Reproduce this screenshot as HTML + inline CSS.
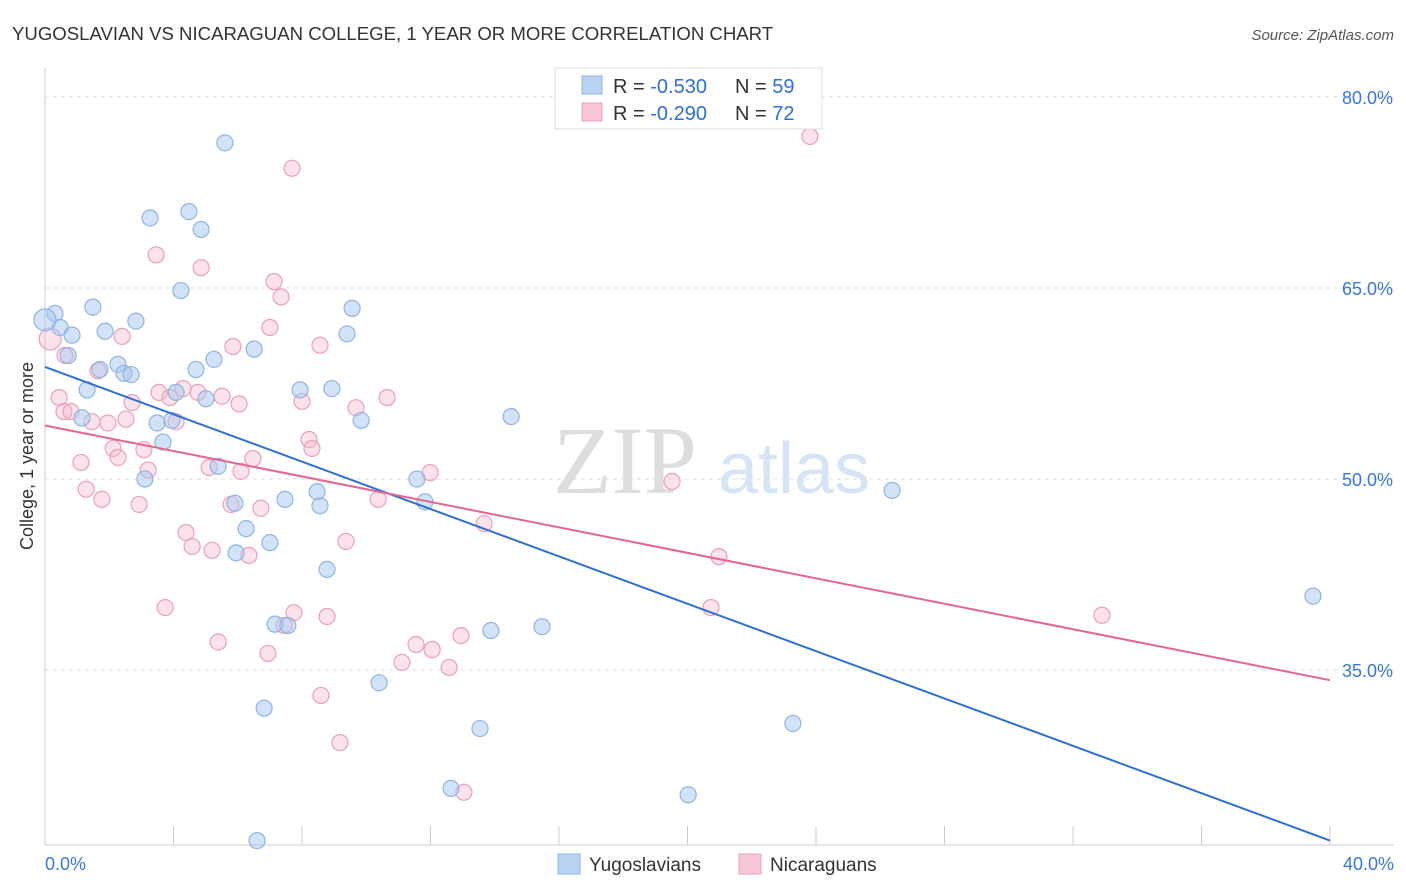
<!DOCTYPE html>
<html><head><meta charset="utf-8"><style>
body{margin:0;background:#fff;font-family:"Liberation Sans",sans-serif;}
svg{display:block}
</style></head><body>
<svg id="chart" width="1406" height="892" viewBox="0 0 1406 892">
<text x="12" y="40" font-size="18.6" fill="#333">YUGOSLAVIAN VS NICARAGUAN COLLEGE, 1 YEAR OR MORE CORRELATION CHART</text>
<text x="1394" y="40" font-size="15" fill="#555" font-style="italic" text-anchor="end">Source: ZipAtlas.com</text>
<text x="33" y="456" font-size="18" fill="#333" text-anchor="middle" transform="rotate(-90 33 456)">College, 1 year or more</text>
<g>
<text x="553" y="493" font-size="96" fill="#ddd" font-family="Liberation Serif,serif">ZIP</text>
<text x="718" y="493" font-size="72" fill="#d6e4f5">atlas</text>
</g>
<g id="grid"></g>
<g id="marks"></g>
<g>
<rect x="555" y="68" width="267" height="61" fill="#fff" stroke="#ddd"/>
<rect x="582" y="76" width="20" height="18" fill="#b9d3f4" stroke="#8fb4e3"/>
<rect x="582" y="103" width="20" height="18" fill="#f9c8d8" stroke="#eaa0b9"/>
<text x="613" y="93" font-size="20" fill="#333">R = <tspan fill="#2f6fd6">-0.530</tspan></text>
<text x="735" y="93" font-size="20" fill="#333">N = <tspan fill="#2f6fd6">59</tspan></text>
<text x="613" y="120" font-size="20" fill="#333">R = <tspan fill="#2f6fd6">-0.290</tspan></text>
<text x="735" y="120" font-size="20" fill="#333">N = <tspan fill="#2f6fd6">72</tspan></text>
</g>
<g>
<rect x="558" y="854" width="22" height="20" fill="#b9d3f4" stroke="#8fb4e3"/>
<text x="589" y="871" font-size="19" fill="#333">Yugoslavians</text>
<rect x="739" y="854" width="22" height="20" fill="#f9c8d8" stroke="#eaa0b9"/>
<text x="770" y="871" font-size="19" fill="#333">Nicaraguans</text>
</g>
</svg>
<script>
const yTicks=[80,65,50,35];
const yTickLabels=["80.0%","65.0%","50.0%","35.0%"];
const xTicks=[0,4,8,12,16,20,24,28,32,36,40];
const xEndLabels=["0.0%","40.0%"];
const blueX=[5.60,3.27,4.48,4.86,4.23,1.49,0.31,0.47,2.83,1.87,0.84,9.56,9.40,6.51,5.26,0.72,2.27,1.71,2.46,2.68,4.70,1.31,4.08,5.01,7.94,8.93,1.15,3.49,3.95,3.67,9.84,14.51,5.39,3.11,11.58,26.37,8.47,7.47,5.91,8.56,11.83,6.26,5.95,7.00,8.78,39.47,7.16,7.56,13.88,15.47,10.40,6.82,13.54,23.28,12.64,20.02,6.60,0];
const blueY=[76.4,70.5,71.0,69.6,64.8,63.5,63.0,61.9,62.4,61.6,61.3,63.4,61.4,60.2,59.4,59.7,59.0,58.6,58.3,58.2,58.6,57.0,56.8,56.3,57.0,57.1,54.8,54.4,54.6,52.9,54.6,54.9,51.0,50.0,50.0,49.1,49.0,48.4,48.1,47.9,48.2,46.1,44.2,45.0,42.9,40.8,38.6,38.5,38.1,38.4,34.0,32.0,30.4,30.8,25.7,25.2,21.6,62.5];
const pinkX=[23.81,7.69,3.46,4.86,7.13,7.35,7.00,2.40,5.85,8.56,0.62,1.65,0.16,3.55,4.30,4.76,5.51,3.89,10.65,8.00,6.04,2.71,9.68,0.44,0.59,0.81,1.46,1.96,2.52,4.08,8.22,8.31,2.12,2.27,3.08,6.47,1.12,3.21,5.11,6.10,11.99,19.52,1.28,1.77,2.93,5.79,6.72,10.37,13.67,4.39,4.58,5.20,6.35,9.37,20.98,3.74,7.75,8.78,20.73,32.90,5.39,11.55,12.95,12.05,11.11,12.58,6.94,8.59,9.18,13.04,7.44];
const pinkY=[76.9,74.4,67.6,66.6,65.5,64.3,61.9,61.2,60.4,60.5,59.7,58.5,61.0,56.8,57.1,56.8,56.5,56.4,56.4,56.1,55.9,56.0,55.6,56.4,55.3,55.3,54.5,54.4,54.7,54.5,53.1,52.4,52.4,51.7,52.3,51.6,51.3,50.7,50.9,50.6,50.5,49.8,49.2,48.4,48.0,48.0,47.7,48.4,46.5,45.8,44.7,44.4,44.0,45.1,43.9,39.9,39.5,39.2,39.9,39.3,37.2,37.0,37.7,36.6,35.6,35.2,36.3,33.0,29.3,25.4,38.5];
const blueTrend=[58.8,21.6];
const pinkTrend=[54.2,34.2];
const trendX=[0,40];

const NS="http://www.w3.org/2000/svg";
const xS=v=>45+v*32.125;
const yS=v=>97+(80-v)*12.733;
function mk(tag,attrs,parent){const e=document.createElementNS(NS,tag);for(const k in attrs)e.setAttribute(k,attrs[k]);parent.appendChild(e);return e;}
const grid=document.getElementById('grid'),marks=document.getElementById('marks');
let ax=mk('line',{x1:45,y1:68,x2:45,y2:845,stroke:'#ccc'},grid);


let bx=mk('line',{x1:45,y1:845,x2:1394,y2:845,stroke:'#ccc'},grid);


yTicks.forEach((t,i)=>{
 let l=mk('line',{x1:45,x2:1394,y1:yS(t),y2:yS(t),stroke:'#ddd','stroke-dasharray':'4,4'},grid);
 
 
 let tx=mk('text',{x:1393,y:yS(t)+7,'font-size':18,fill:'#3a78d4','text-anchor':'end'},grid);
 tx.textContent=yTickLabels[i];
 
 
});
xTicks.forEach(t=>{
 let l=mk('line',{x1:xS(t),x2:xS(t),y1:826,y2:845,stroke:'#ccc'},grid);
 
 
});
[[0,'start',45],[40,'end',1394]].forEach((d,i)=>{
 let tx=mk('text',{x:d[2],y:870,'font-size':18,fill:'#3a78d4','text-anchor':d[1]},grid);
 tx.textContent=xEndLabels[i];
 
 
});
function pts(X,Y,fill,stroke,name,bigIdx){
 X.forEach((x,i)=>{
  let c=mk('circle',{cx:xS(x),cy:yS(Y[i]),r:(i===bigIdx?11:8),fill:fill,stroke:stroke,'stroke-width':1.2},marks);
  
  
 });
}
pts(pinkX,pinkY,'rgba(244,182,204,0.4)','#eaa0b9','nicaraguan-point',12);
pts(blueX,blueY,'rgba(167,199,240,0.5)','#8fb4e3','yugoslavian-point',57);
let bl=mk('line',{x1:xS(trendX[0]),y1:yS(blueTrend[0]),x2:xS(trendX[1]),y2:yS(blueTrend[1]),stroke:'#2f6fd6','stroke-width':2},marks);


let pl=mk('line',{x1:xS(trendX[0]),y1:yS(pinkTrend[0]),x2:xS(trendX[1]),y2:yS(pinkTrend[1]),stroke:'#e8648f','stroke-width':2},marks);


</script>
</body></html>
